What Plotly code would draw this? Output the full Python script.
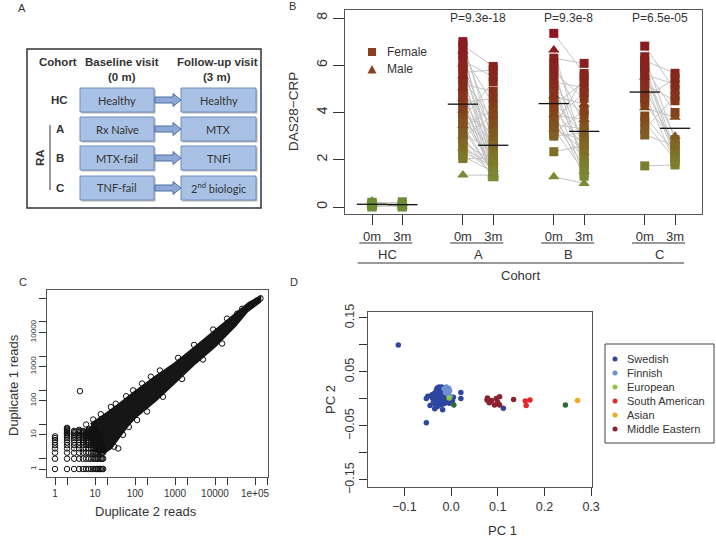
import numpy as np
import plotly.graph_objects as go

W, H = 716, 539
def X(p): return p / W
def Y(p): return 1 - p / H

FONT = "Liberation Sans, Arial, sans-serif"
TXT = "#333333"

# ---------------- Panel B data (DAS28-CRP) ----------------
group_names = ["HC", "A", "B", "C"]
visit_labels = ["0m", "3m"]
pos_0m = [1, 4, 7, 10]
pos_3m = [2, 5, 8, 11]
p_values = ["", "P=9.3e-18", "P=9.3e-8", "P=6.5e-05"]

hc_0m = [0.05, 0.10, 0.15, 0.20, 0.00, 0.08, 0.12, 0.03, 0.18, 0.25]
hc_3m = [0.06, 0.12, 0.20, 0.02, 0.10, 0.15, 0.00, 0.22, 0.08, 0.04]
hc_sex = list("FFMFFMFFFM")

a_0m = [7.0, 6.85, 6.75, 6.6, 6.45, 6.4, 6.2, 6.05, 5.95, 5.8, 5.7, 5.55, 5.4, 5.35, 5.2,
        5.05, 4.95, 4.8, 4.75, 4.6, 4.55, 4.4, 4.3, 4.2, 4.1, 3.95, 3.9, 3.75, 3.65, 3.55,
        3.45, 3.4, 3.25, 3.15, 3.0, 2.95, 2.85, 2.7, 2.6, 2.5, 2.45, 2.3, 2.15, 2.05, 1.35]
a_3m = [2.7, 5.95, 3.3, 1.9, 4.35, 2.2, 5.5, 1.6, 3.0, 2.4, 5.8, 1.45, 3.7, 2.0, 4.9,
        1.3, 2.85, 1.75, 3.5, 1.2, 2.5, 4.6, 1.55, 2.1, 1.35, 3.15, 1.65, 5.3, 1.8, 2.6,
        1.4, 4.1, 1.5, 2.3, 1.25, 3.9, 1.7, 1.95, 1.6, 1.45, 1.85, 1.75, 1.5, 2.05, 1.35]
a_sex = list("FFFMFFFMFFFMFFFMFFFMFFFFMFFFFFMFFFMFFFFMFFFFM")

b_0m = [7.35, 6.65, 6.3, 6.1, 5.9, 5.7, 5.5, 5.3, 5.15, 5.0, 4.85, 4.7, 4.55, 4.45, 4.3,
        4.15, 4.0, 3.9, 3.75, 3.65, 3.6, 3.5, 3.4, 3.35, 3.3, 3.2, 3.1, 3.0, 2.34, 1.28]
b_3m = [5.65, 2.3, 6.08, 3.5, 1.6, 4.6, 2.7, 5.05, 1.9, 3.9, 2.15, 4.35, 1.4, 3.0, 5.3,
        2.55, 1.3, 3.7, 2.0, 4.85, 1.75, 3.3, 2.4, 5.5, 1.5, 2.85, 4.1, 3.15, 2.6, 1.0]
b_sex = list("FMFFFFFFFFFMFFFFFMFFFFFFMFFFFM")

c_0m = [6.81, 6.36, 6.2, 6.0, 5.9, 5.8, 5.6, 5.5, 5.4, 5.2, 5.0, 4.8, 4.6, 4.4, 4.2,
        3.85, 3.6, 3.3, 3.05, 1.74]
c_3m = [4.95, 2.85, 5.66, 2.4, 4.0, 2.2, 5.2, 3.0, 2.1, 4.5, 2.55, 1.9, 5.45, 2.7, 3.8,
        2.3, 2.0, 4.7, 2.6, 1.78]
c_sex = list("FFFFFFFMFFFFFFMFFFFF")

# ---------------- Panel C data (duplicate reads) ----------------
grid_cols = [1, 2, 3, 4, 5, 6, 7, 8, 9, 10, 11, 12, 13, 14, 15, 16]
grid_col_max = [9, 16, 13, 14, 13, 12, 15, 14, 12, 16, 12, 10, 8, 6, 5, 4]
# outline of the saturated (solid black) region of overlapping circles
band_x = [7.9, 10, 20, 40, 100, 316, 1000, 3160, 10000, 31600, 70800, 132000,
          132000, 63100, 31600, 10000, 3160, 1000, 316, 100, 63, 40, 25, 17.8, 12.6, 8.9]
band_y = [20, 24, 42, 76, 178, 479, 1200, 3550, 10700, 31600, 70800, 105000,
          79400, 41700, 15800, 3980, 1260, 355, 100, 33, 18, 8.9, 4.2, 3.2, 3.2, 3.5]
edge_x = [6, 9, 14, 25, 33, 60, 90, 150, 250, 420, 1200, 3000, 9000, 20000,
          30, 50, 70, 200, 500, 1500, 5000, 15000,
          4.2, 38, 113, 137000, 112000, 77000, 48000, 36000]
edge_y = [20, 28, 40, 65, 81, 135, 200, 316, 500, 760, 1780, 4270, 12000, 25000,
          4.5, 10, 17, 48, 130, 430, 1600, 4700,
          190, 4, 27, 98000, 85000, 60000, 49000, 35000]
c_xticks = [1, 10, 100, 1000, 10000, 100000]
c_xtext = ["1", "10", "100", "1000", "10000", "1e+05"]
c_xminor = [2, 20, 200, 2000, 20000, 200000]
c_yticks = [1, 10, 100, 1000, 10000]
c_ytext = ["1", "10", "100", "1000", "10000"]
c_yminor = [2, 20, 200, 2000, 20000, 100000]

# ---------------- Panel D data (PCA) ----------------
swe_pc1 = [-0.113, -0.053, -0.053, -0.050, -0.045, 0.021, 0.021, 0.112, 0.003, -0.018, -0.035,
           -0.040, -0.038, -0.036, -0.034, -0.033, -0.032, -0.031, -0.030, -0.029, -0.028,
           -0.027, -0.026, -0.025, -0.024, -0.023, -0.022, -0.022, -0.021, -0.020, -0.019,
           -0.018, -0.017, -0.016, -0.015, -0.014, -0.013, -0.012, -0.011, -0.010, -0.008,
           -0.006, -0.004, -0.030, -0.026, -0.020, -0.036, -0.041, -0.009, 0.005]
swe_pc2 = [0.100, -0.044, 0.001, 0.005, -0.012, 0.012, 0.001, -0.017, -0.004, -0.020, -0.018,
           0.002, -0.006, 0.010, -0.010, 0.004, 0.015, -0.003, 0.008, -0.014, 0.001,
           0.018, -0.007, 0.011, -0.001, 0.006, -0.011, 0.020, 0.003, -0.005, 0.013,
           0.008, -0.002, 0.016, -0.009, 0.005, 0.000, 0.010, -0.006, 0.003, -0.003,
           0.007, -0.008, 0.020, 0.022, 0.022, -0.002, 0.008, 0.015, 0.003]
fin_pc1 = [-0.012, -0.008, -0.005, -0.003, -0.010, -0.006, -0.002, -0.015]
fin_pc2 = [0.012, 0.018, 0.020, 0.015, 0.022, 0.008, 0.005, 0.019]
eur_pc1 = [-0.004]
eur_pc2 = [0.002]
sam_pc1 = [0.159, 0.169, 0.161, 0.082]
sam_pc2 = [-0.004, -0.002, -0.012, -0.006]
asi_pc1 = [0.271]
asi_pc2 = [-0.003]
mea_pc1 = [0.077, 0.087, 0.097, 0.104, 0.093, 0.104, 0.082, 0.134, 0.078, 0.100]
mea_pc2 = [-0.002, -0.003, 0.001, 0.004, -0.011, -0.011, -0.007, -0.001, 0.002, -0.006]
oth_pc1 = [0.006, 0.245]
oth_pc2 = [-0.011, -0.011]
pop_names = ["Swedish", "Finnish", "European", "South American", "Asian", "Middle Eastern"]
pop_colors = ["#2f46a0", "#6d8fd0", "#8dc63f", "#e2262b", "#f0a81e", "#8b2230"]
other_color = "#2d6a36"

# ---------------- Panel A content ----------------
a_rows = ["HC", "A", "B", "C"]
a_baseline = ["Healthy", "Rx Naïve", "MTX-fail", "TNF-fail"]
a_followup = ["Healthy", "MTX", "TNFi", "2<sup>nd</sup> biologic"]

# ================= figure =================
fig = go.Figure()

das_scale = [[0, "#6a8e34"], [0.16, "#7e8b36"], [0.28, "#7d7627"], [0.42, "#7f5a22"],
             [0.55, "#834019"], [0.72, "#86281c"], [1, "#8c1622"]]

groups_0 = [hc_0m, a_0m, b_0m, c_0m]
groups_3 = [hc_3m, a_3m, b_3m, c_3m]
groups_sex = [hc_sex, a_sex, b_sex, c_sex]

# connectors
lx, ly = [], []
for g in range(4):
    for v0, v3 in zip(groups_0[g], groups_3[g]):
        lx += [pos_0m[g], pos_3m[g], None]
        ly += [v0, v3, None]
fig.add_trace(go.Scatter(x=lx, y=ly, mode="lines", line=dict(color="#c4c4c4", width=1),
                         hoverinfo="skip", showlegend=False, xaxis="x", yaxis="y"))

for sex, sym, size in [("F", "square", 9), ("M", "triangle-up", 10)]:
    mx, my = [], []
    for g in range(4):
        for v0, v3, s in zip(groups_0[g], groups_3[g], groups_sex[g]):
            if s == sex:
                mx += [pos_0m[g], pos_3m[g]]
                my += [v0, v3]
    fig.add_trace(go.Scatter(x=mx, y=my, mode="markers", showlegend=False,
                             marker=dict(symbol=sym, size=size, color=my, colorscale=das_scale,
                                         cmin=0, cmax=7.4, line=dict(width=0)),
                             xaxis="x", yaxis="y"))

# mean lines
for g in range(4):
    for p, vals in [(pos_0m[g], groups_0[g]), (pos_3m[g], groups_3[g])]:
        m = float(np.mean(vals))
        fig.add_trace(go.Scatter(x=[p - 0.5, p + 0.5], y=[m, m], mode="lines",
                                 line=dict(color="#111111", width=1.3), showlegend=False,
                                 hoverinfo="skip", xaxis="x", yaxis="y"))

# Panel C
gx, gy = [], []
for cx, cm in zip(grid_cols, grid_col_max):
    for cnt in range(1, cm + 1):
        gx.append(cx)
        gy.append(cnt)
fig.add_trace(go.Scatter(x=band_x, y=band_y, mode="lines", fill="toself",
                         fillcolor="#161616", line=dict(color="#161616", width=3),
                         showlegend=False, hoverinfo="skip", xaxis="x2", yaxis="y2"))
fig.add_trace(go.Scatter(x=gx + edge_x, y=gy + edge_y, mode="markers", showlegend=False,
                         marker=dict(symbol="circle-open", size=5.5, color="#111111",
                                     line=dict(width=1)),
                         xaxis="x2", yaxis="y2"))

# Panel D
pc_sets = [(swe_pc1, swe_pc2), (fin_pc1, fin_pc2), (eur_pc1, eur_pc2),
           (sam_pc1, sam_pc2), (asi_pc1, asi_pc2), (mea_pc1, mea_pc2)]
for (px1, px2), name, col in zip(pc_sets, pop_names, pop_colors):
    fig.add_trace(go.Scatter(x=px1, y=px2, mode="markers", name=name, showlegend=False,
                             marker=dict(size=5.5, color=col), xaxis="x3", yaxis="y3"))
fig.add_trace(go.Scatter(x=oth_pc1, y=oth_pc2, mode="markers", showlegend=False,
                         marker=dict(size=5.5, color=other_color), xaxis="x3", yaxis="y3"))

# ================= axes =================
axis_common = dict(showline=True, mirror=True, linecolor="#555555", linewidth=1,
                   showgrid=False, zeroline=False, ticks="outside", tickcolor="#333333",
                   automargin=False, tickfont=dict(family=FONT, color=TXT))

tick_x_b = []
tick_t_b = []
for g in range(4):
    tick_x_b += [pos_0m[g], pos_3m[g]]
    tick_t_b += visit_labels

fig.update_layout(
    width=W, height=H, margin=dict(l=0, r=0, t=0, b=0, pad=0, autoexpand=False),
    paper_bgcolor="white", plot_bgcolor="white", showlegend=False,
    xaxis=dict(axis_common, domain=[X(345), X(702)], range=[0.109, 11.89],
               tickvals=tick_x_b, ticktext=tick_t_b, ticklen=10, anchor="y",
               tickfont=dict(family=FONT, color=TXT, size=13)),
    yaxis=dict(axis_common, domain=[Y(214), Y(10)], range=[-0.296, 8.339],
               tickvals=[0, 2, 4, 6, 8], ticklen=11, tickangle=-90, anchor="x",
               tickfont=dict(family=FONT, color=TXT, size=14)),
    xaxis2=dict(axis_common, type="log", domain=[X(47), X(268)], range=[-0.2, 5.325],
                tickvals=c_xticks, ticktext=c_xtext, ticklen=7, anchor="y2",
                minor=dict(tickvals=c_xminor, ticks="outside", ticklen=7, tickcolor="#333333",
                           showgrid=False),
                tickfont=dict(family=FONT, color=TXT, size=10)),
    yaxis2=dict(axis_common, type="log", domain=[Y(477), Y(290)], range=[-0.234, 5.237],
                tickvals=c_yticks, ticktext=c_ytext, ticklen=7, tickangle=-90, anchor="x2",
                minor=dict(tickvals=c_yminor, ticks="outside", ticklen=7, tickcolor="#333333",
                           showgrid=False),
                tickfont=dict(family=FONT, color=TXT, size=8)),
    xaxis3=dict(axis_common, domain=[X(368), X(592)], range=[-0.178, 0.302],
                tickvals=[-0.1, 0, 0.1, 0.2, 0.3], ticktext=["−0.1", "0.0", "0.1", "0.2", "0.3"],
                ticklen=8, anchor="y3", tickfont=dict(family=FONT, color=TXT, size=12.5)),
    yaxis3=dict(axis_common, domain=[Y(487), Y(312)], range=[-0.163, 0.161],
                tickvals=[-0.15, -0.05, 0.05, 0.15],
                ticktext=["−0.15", "−0.05", "0.05", "0.15"],
                minor=dict(tickvals=[-0.1, 0, 0.1], ticks="outside", ticklen=8,
                           tickcolor="#333333", showgrid=False),
                ticklen=8, tickangle=-90, anchor="x3",
                tickfont=dict(family=FONT, color=TXT, size=12.5)),
)

ann = []
shapes = []
def text(x, y, s, size=13, anchor="center", angle=0, bold=False, family=FONT, color=TXT,
         xref="paper"):
    ann.append(dict(x=x if xref != "paper" else X(x), y=Y(y), xref=xref, yref="paper",
                    text=("<b>%s</b>" % s) if bold else s, showarrow=False,
                    xanchor=anchor, yanchor="middle", textangle=angle,
                    font=dict(family=family, size=size, color=color)))

# panel letters
for s, x, y in [("A", 22, 8), ("B", 292, 6), ("C", 23, 282), ("D", 294, 282)]:
    text(x, y, s, size=11)

# ---- Panel A ----
shapes.append(dict(type="rect", xref="paper", yref="paper", x0=X(27), x1=X(261),
                   y0=Y(208), y1=Y(49), line=dict(color="#333333", width=1.5)))
text(58, 62, "Cohort", size=11.5, bold=True)
text(122, 62, "Baseline visit", size=11.5, bold=True)
text(122, 77, "(0 m)", size=11.5, bold=True)
text(217, 62, "Follow-up visit", size=11.5, bold=True)
text(217, 77, "(3 m)", size=11.5, bold=True)
row_top = [88, 117, 146, 176]
for i, (lab, b0, f3) in enumerate(zip(a_rows, a_baseline, a_followup)):
    t = row_top[i]
    b = t + 24
    cy = (t + b) / 2
    for x0, x1, s in [(80, 154, b0), (181, 256, f3)]:
        shapes.append(dict(type="rect", xref="paper", yref="paper", x0=X(x0 + 1.5), x1=X(x1 + 1.5),
                           y0=Y(b + 1.5), y1=Y(t + 1.5), line=dict(width=0), fillcolor="#b5b5b5"))
        shapes.append(dict(type="rect", xref="paper", yref="paper", x0=X(x0), x1=X(x1),
                           y0=Y(b), y1=Y(t), line=dict(color="#6f8fc0", width=1),
                           fillcolor="#a9c1e4"))
        text((x0 + x1) / 2, cy, s, size=11, family="Lato, Open Sans, sans-serif", color="#333333")
    path = "M {a} {b} L {c} {b} L {c} {d} L {e} {f} L {c} {g} L {c} {h} L {a} {h} Z".format(
        a=X(155), c=X(173), e=X(181), b=Y(cy - 3), h=Y(cy + 3), d=Y(cy - 6.5), g=Y(cy + 6.5),
        f=Y(cy))
    shapes.append(dict(type="path", xref="paper", yref="paper", path=path,
                       fillcolor="#8ea9d6", line=dict(color="#4d6ea6", width=1)))
    text(60, cy, lab, size=11.5, bold=True)
text(40, 158, "RA", size=11.5, bold=True, angle=-90)
shapes.append(dict(type="line", xref="paper", yref="paper", x0=X(50), x1=X(50), y0=Y(125),
                   y1=Y(190), line=dict(color="#333333", width=1)))

# ---- Panel B extras ----
for g in range(4):
    c = (pos_0m[g] + pos_3m[g]) / 2
    if p_values[g]:
        text(c, 18, p_values[g], size=12, xref="x")
    text(c, 254, group_names[g], size=13, xref="x")
    shapes.append(dict(type="line", xref="x", yref="paper", x0=pos_0m[g] - 0.42,
                       x1=pos_3m[g] + 0.33, y0=Y(243), y1=Y(243),
                       line=dict(color="#333333", width=1)))
shapes.append(dict(type="line", xref="x", yref="paper", x0=pos_0m[0] - 0.47,
                   x1=pos_3m[-1] + 0.3, y0=Y(263), y1=Y(263),
                   line=dict(color="#333333", width=1)))
text((pos_0m[0] - 0.47 + pos_3m[-1] + 0.3) / 2, 275, "Cohort", size=13, xref="x")
text(293, 112, "DAS28−CRP", size=13.5, angle=-90)
# legend B
shapes.append(dict(type="rect", xref="paper", yref="paper", x0=X(368), x1=X(376), y0=Y(56),
                   y1=Y(48), fillcolor="#8b3f1f", line=dict(width=0)))
shapes.append(dict(type="path", xref="paper", yref="paper",
                   path="M {} {} L {} {} L {} {} Z".format(X(367.5), Y(73.5), X(376.5), Y(73.5),
                                                          X(372), Y(65)),
                   fillcolor="#8b3f1f", line=dict(width=0)))
text(385, 52, "Female", size=12, anchor="left")
text(385, 69, "Male", size=12, anchor="left")

# ---- Panel C extras ----
text(13, 385, "Duplicate 1 reads", size=13, angle=-90)
text(146, 511, "Duplicate 2 reads", size=13)

# ---- Panel D extras ----
text(331, 400, "PC 2", size=13, angle=-90)
text(502, 530, "PC 1", size=13)
shapes.append(dict(type="rect", xref="paper", yref="paper", x0=X(605), x1=X(714), y0=Y(443),
                   y1=Y(344), line=dict(color="#444444", width=1), fillcolor="white"))
for i, (nm, col) in enumerate(zip(pop_names, pop_colors)):
    yy = 359 + 14 * i
    shapes.append(dict(type="circle", xref="paper", yref="paper", x0=X(612.5), x1=X(617.5),
                       y0=Y(yy + 2.5), y1=Y(yy - 2.5), fillcolor=col, line=dict(width=0)))
    text(625, yy, nm, size=11, anchor="left")

fig.update_layout(annotations=ann, shapes=shapes)
fig.write_html("out.html", config={"displayModeBar": False},
               post_script="document.body.style.margin='0px';document.body.style.padding='0px';")
